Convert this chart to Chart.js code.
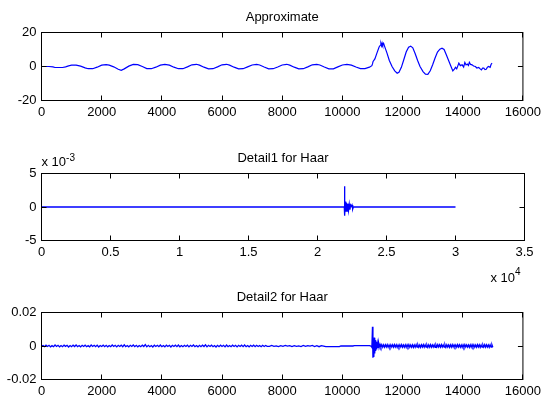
<!DOCTYPE html>
<html><head><meta charset="utf-8">
<script src="https://cdn.jsdelivr.net/npm/chart.js@4/dist/chart.umd.min.js"></script>
<style>
html,body{margin:0;padding:0;background:#fff;}
#wrap{position:relative;width:545px;height:396px;background:#fff;}
canvas{position:absolute;left:0;top:0;}
</style>
</head><body>
<div id="wrap">
<canvas id="c1" width="545" height="396"></canvas>
<canvas id="c2" width="545" height="396"></canvas>
<canvas id="c3" width="545" height="396"></canvas>
</div>
<script>
const FONT = "'Liberation Sans', Arial, Helvetica, sans-serif";

// ---------- Subplot 1: Approximate ----------
const APPROX_TITLE = "Approximate";
const APPROX_X = [0,250,380,450,700,800,900,1000,1150,1300,1450,1550,1700,1850,2000,2150,2250,2400,2550,2650,2750,2900,3050,3200,3350,3500,3650,3800,3950,4100,4250,4400,4550,4700,4850,5000,5150,5250,5400,5550,5700,5850,6000,6150,6250,6400,6550,6700,6850,7000,7150,7250,7400,7550,7700,7850,8000,8150,8250,8400,8550,8700,8850,9000,9150,9250,9400,9550,9700,9850,10000,10150,10300,10450,10600,10750,10900,10980,11000,11020,11080,11150,11220,11260,11280,11300,11320,11340,11370,11400,11480,11560,11650,11740,11820,11880,11960,12040,12120,12200,12270,12340,12420,12500,12580,12680,12760,12840,12920,13000,13080,13160,13240,13310,13380,13450,13530,13600,13670,13720,13760,13800,13870,13920,13980,14030,14070,14110,14150,14190,14220,14260,14310,14360,14420,14470,14530,14580,14620,14660,14700,14740,14780,14820,14860,14910,14940,14973];
const APPROX_Y = [0,0,-0.2,-0.6,-0.6,-0.2,0.4,0.8,0.8,0.2,-0.8,-1.3,-1.3,-0.4,0.8,1.1,0.8,-0.2,-1.6,-2.2,-1.4,0.2,1.2,1.1,0.0,-1.2,-1.3,-0.4,0.8,1.2,0.8,-0.4,-1.3,-1.3,-0.2,1.0,1.3,0.8,-0.4,-1.4,-1.3,-0.2,1.0,1.3,0.8,-0.4,-1.4,-1.3,-0.2,0.9,1.3,0.9,-0.3,-1.4,-1.3,-0.3,0.9,1.3,0.8,-0.4,-1.4,-1.3,-0.2,1.0,1.3,0.9,-0.3,-1.4,-1.4,-0.2,0.9,1.2,0.8,-0.3,-1.2,-1.2,-0.4,0.5,1.5,3.0,4.5,8.0,11.5,12.5,13.5,12.2,13.8,12.5,13.6,12.0,8.0,3.5,0.0,-2.6,-4.0,-3.4,-0.5,4.0,8.5,11.4,12.0,11.0,7.5,3.5,0.0,-3.0,-4.5,-4.6,-2.5,1.0,5.0,8.5,10.2,10.8,10.0,7.0,3.5,0.5,-2.6,-1.5,-0.5,-1.4,2.0,0.5,1.0,-0.3,2.4,0.9,1.4,0.6,2.5,1.2,1.0,0.3,0.0,-0.9,-0.6,-1.4,-2.0,-1.0,-1.0,-1.8,-1.6,-0.4,0.0,-0.5,1.2,2.0];
const APPROX_XTICKS = {min:0, max:16000, step:2000};
const APPROX_YTICKS = {min:-20, max:20, step:20};

// ---------- Subplot 2: Detail1 for Haar (y in units of 1e-3, x up to 3e4) ----------
const D1_TITLE = "Detail1 for Haar";
const D1_X = [0,21940,21950,21960,21975,21990,22020,22060,22100,22150,22200,22250,22300,22350,22400,22450,22500,22550,22600,30000];
const D1_Y_E3 = [0,0,3.1,-1.3,2.2,-1.2,0.8,-0.7,0.6,-0.6,0.5,-0.5,0.4,-0.4,0.3,0.1,0.3,-0.3,0,0];
const D1_XTICKS = {min:0, max:35000, step:5000};
const D1_YTICKS = {min:-0.005, max:0.005, step:0.005};

// ---------- Subplot 3: Detail2 for Haar (y in units of 1e-4) ----------
const D2_TITLE = "Detail2 for Haar";
const D2_X = [
0,50,100,150,200,250,300,350,400,450,500,550,600,650,700,750,800,850,900,950,
1000,1050,1100,1150,1200,1250,1300,1350,1400,1450,1500,1550,1600,1650,1700,1750,1800,1850,1900,1950,
2000,2050,2100,2150,2200,2250,2300,2350,2400,2450,2500,2550,2600,2650,2700,2750,2800,2850,2900,2950,
3000,3050,3100,3150,3200,3250,3300,3350,3400,3450,3500,3550,3600,3650,3700,3750,3800,3850,3900,3950,
4000,4050,4100,4150,4200,4250,4300,4350,4400,4450,4500,4550,4600,4650,4700,4750,4800,4850,4900,4950,
5000,5050,5100,5150,5200,5250,5300,5350,5400,5450,5500,5550,5600,5650,5700,5750,5800,5850,5900,5950,
6000,6050,6100,6150,6200,6250,6300,6350,6400,6450,6500,6550,6600,6650,6700,6750,6800,6850,6900,6950,
7000,7050,7100,7150,7200,7250,7300,7350,7400,7450,7500,
7575,7650,7725,7800,7875,7950,8025,8100,8175,8250,8325,8400,8475,8550,8625,8700,8775,8850,8925,9000,9075,9150,9225,9300,9375,
9450,9900,9950,10350,10400,10900,10950,
10980,11000,11015,11030,11045,11060,11075,11090,11105,11120,11140,11160,11180,11200,11220,11250,11280,11310,11340,11370,11400,
11430,11460,11490,11520,11550,11580,11610,11640,11670,11700,
11730,11760,11790,11820,11850,11880,11910,11940,11970,12000,
12030,12060,12090,12120,12150,12180,12210,12240,12270,12300,
12330,12360,12390,12420,12450,12480,12510,12540,12570,12600,
12630,12660,12690,12720,12750,12780,12810,12840,12870,12900,
12930,12960,12990,13020,13050,13080,13110,13140,13170,13200,
13230,13260,13290,13320,13350,13380,13410,13440,13470,13500,
13530,13560,13590,13620,13650,13680,13710,13740,13770,13800,
13830,13860,13890,13920,13950,13980,14010,14040,14070,14100,
14130,14160,14190,14220,14250,14280,14310,14340,14370,14400,
14430,14460,14490,14520,14550,14580,14610,14640,14670,14700,
14730,14760,14790,14820,14850,14880,14910,14940,14970,15000];
const D2_Y_E4 = [
0,3,-4,5,-3,4,-5,2,-4,6,
-3,4,-5,3,-4,5,-2,4,-6,3,
-4,5,-3,6,-4,3,-5,4,-3,5,
-4,2,-5,6,-3,4,-4,5,-6,3,
-3,5,-4,4,-5,3,-4,6,-3,4,
-5,4,-3,5,-4,7,-4,3,-5,4,
-3,6,-4,4,-5,3,-4,5,-3,8,
-5,4,-4,3,-6,5,-3,4,-4,6,
-4,3,-5,5,-3,4,-6,4,-3,5,
-4,6,-5,3,-4,4,-3,5,-5,4,
-3,6,-4,3,-5,4,-4,5,-3,7,
-5,4,-3,5,-4,3,-6,4,-4,5,
-3,4,-5,6,-4,3,-4,5,-3,4,
-5,4,-3,5,-4,6,-4,3,-5,4,
-3,5,-4,4,-3,3,-4,4,-3,3,
-2,
-2,3,-2,1,-3,2,-2,3,-1,2,-3,2,-2,1,-3,3,-2,2,-1,3,-3,2,-4,2,-1,
-4,-4,0,0,2,2,0,
-8,115,-70,40,-65,50,-45,35,-30,25,-20,15,-12,20,-10,10,-8,8,-7,7,-7,
7,-6,8,-7,6,-8,7,-6,7,-7,
8,-6,7,-8,6,-7,7,-6,8,-7,
6,-7,7,-8,7,-6,8,-7,6,-7,
7,-8,6,-7,8,-6,7,-7,6,-8,
7,-6,8,-7,7,-6,6,-8,7,-7,
8,-7,6,-6,7,-8,7,-6,8,-6,
7,-7,8,-6,6,-7,8,-8,7,-6,
6,-8,7,-7,8,-6,7,-6,6,-7,
8,-6,7,-7,6,-8,7,-7,8,-6,
7,-6,6,-8,7,-7,8,-6,7,-7,
6,-7,8,-6,7,-8,6,-7,7,-6,
8,-7,7,-6,6,-8,7,-6,8,-7];
const D2_XTICKS = {min:0, max:16000, step:2000};
const D2_YTICKS = {min:-0.02, max:0.02, step:0.02};

const PLOT_LEFT = 41.5, PLOT_RIGHT = 524.5, CANVAS_W = 545, CANVAS_H = 396, XAXIS_H = 20;
const LINE_COLOR = '#0000ff';

function framePlugin(title, extra) {
  return {
    id: 'frame',
    afterDatasetsDraw(chart) {
      const ctx = chart.ctx, a = chart.chartArea;
      const xs = chart.scales.x, ys = chart.scales.y;
      ctx.save();
      ctx.strokeStyle = '#000';
      ctx.lineWidth = 1;
      ctx.beginPath();
      const TL = 5;
      xs.ticks.forEach(t => {
        const px = Math.round(xs.getPixelForValue(t.value) - 0.5) + 0.5;
        ctx.moveTo(px, a.bottom); ctx.lineTo(px, a.bottom - TL);
        ctx.moveTo(px, a.top); ctx.lineTo(px, a.top + TL);
      });
      ys.ticks.forEach(t => {
        const py = Math.round(ys.getPixelForValue(t.value) - 0.5) + 0.5;
        ctx.moveTo(a.left, py); ctx.lineTo(a.left + TL, py);
        ctx.moveTo(a.right, py); ctx.lineTo(a.right - TL, py);
      });
      ctx.stroke();
      ctx.strokeRect(a.left, a.top, a.right - a.left, a.bottom - a.top);
      ctx.fillStyle = '#000';
      ctx.font = '13px ' + FONT;
      ctx.textAlign = 'center';
      ctx.textBaseline = 'alphabetic';
      ctx.fillText(title, (a.left + a.right) / 2, a.top - 11.5);
      if (extra) extra(ctx, a);
      ctx.restore();
    }
  };
}

function subplot(id, o) {
  const pts = o.xs.map((x, i) => ({x: x, y: o.ys[i]}));
  return new Chart(document.getElementById(id), {
    type: 'line',
    data: { datasets: [{ data: pts, borderColor: LINE_COLOR, borderWidth: o.lw || 1.2, pointRadius: 0, fill: false, tension: 0 }] },
    options: {
      responsive: false, animation: false, devicePixelRatio: 1,
      layout: { padding: { left: 0, right: CANVAS_W - PLOT_RIGHT, top: o.top, bottom: CANVAS_H - o.bottom - XAXIS_H } },
      plugins: { legend: { display: false }, tooltip: { enabled: false }, title: { display: false } },
      scales: {
        x: {
          type: 'linear', min: o.xt.min, max: o.xt.max,
          afterFit: s => { s.height = XAXIS_H; },
          grid: { display: false, drawTicks: false }, border: { display: false },
          ticks: { stepSize: o.xt.step, callback: o.xfmt, font: { family: FONT, size: 13 }, color: '#000', padding: 4, maxRotation: 0, autoSkip: false }
        },
        y: {
          type: 'linear', min: o.yt.min, max: o.yt.max,
          afterFit: s => { s.width = PLOT_LEFT; },
          grid: { display: false, drawTicks: false }, border: { display: false },
          ticks: { stepSize: o.yt.step, callback: o.yfmt, font: { family: FONT, size: 13 }, color: '#000', padding: 5, autoSkip: false }
        }
      }
    },
    plugins: [framePlugin(o.title, o.extra)]
  });
}

const plain = v => String(Math.round(v));

subplot('c1', {
  xs: APPROX_X, ys: APPROX_Y, xt: APPROX_XTICKS, yt: APPROX_YTICKS, top: 32.5, bottom: 100.5,
  title: APPROX_TITLE, xfmt: plain, yfmt: plain, lw: 1.2
});

subplot('c2', {
  xs: D1_X, ys: D1_Y_E3.map(v => v * 1e-3), xt: D1_XTICKS, yt: D1_YTICKS, top: 173.5, bottom: 240.5,
  title: D1_TITLE, lw: 1.3,
  xfmt: v => String(Math.round(v / 1000) / 10),
  yfmt: v => { const r = Math.round(v * 1000); return String(r === 0 ? 0 : r); },
  extra: (ctx, a) => {
    ctx.textAlign = 'left';
    ctx.font = '13px ' + FONT;
    ctx.fillText('x 10', a.left, 165.5);
    const w = ctx.measureText('x 10').width;
    ctx.font = '10px ' + FONT;
    ctx.fillText('-3', a.left + w, 160.5);
    ctx.font = '13px ' + FONT;
    ctx.fillText('x 10', 490.5, 281.5);
    const w2 = ctx.measureText('x 10').width;
    ctx.font = '10px ' + FONT;
    ctx.fillText('4', 490.5 + w2, 274.5);
  }
});

subplot('c3', {
  xs: D2_X, ys: D2_Y_E4.map(v => v * 1e-4), xt: D2_XTICKS, yt: D2_YTICKS, top: 312.5, bottom: 379.5,
  title: D2_TITLE, xfmt: plain, lw: 1.3,
  yfmt: v => { if (Math.abs(v) < 1e-9) return '0'; return (Math.round(v * 100) / 100).toFixed(2); }
});
</script>
</body></html>
